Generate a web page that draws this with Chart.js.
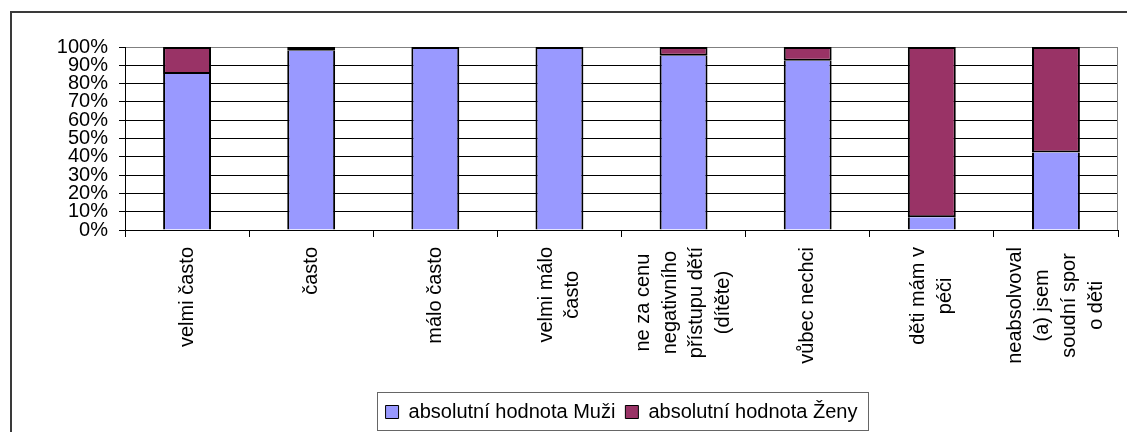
<!DOCTYPE html>
<html>
<head>
<meta charset="utf-8">
<script src="https://cdn.jsdelivr.net/npm/chart.js@4/dist/chart.umd.min.js"></script>
<style>
  body { margin: 0; background: #fff; }
</style>
</head>
<body>
<canvas id="chart" width="1127" height="432"></canvas>
<script>
const categories = [
  ['velmi často'],
  ['často'],
  ['málo často'],
  ['velmi málo', 'často'],
  ['ne za cenu', 'negativního', 'přístupu dětí', '(dítěte)'],
  ['vůbec nechci'],
  ['děti mám v', 'péči'],
  ['neabsolvoval', '(a) jsem', 'soudní spor', 'o děti']
];
const muzi = [85.2, 98, 100, 100, 95.2, 92.5, 6.9, 42.3];
const zeny = [14.8, 2, 0, 0, 4.8, 7.5, 93.1, 57.7];
const yStep = 10;

const FONT = "'Liberation Sans', Arial, sans-serif";
Chart.defaults.font.family = FONT;
Chart.defaults.font.size = 20;
Chart.defaults.color = '#000';

// frame, right plot border, legend box and centred multi-line category labels
const decorations = {
  id: 'decorations',
  afterLayout(chart) {
    // centre the legend under the plot area, not the whole canvas
    const lg = chart.legend;
    lg.left = chart.chartArea.left;
    lg.right = chart.chartArea.right;
    lg.width = lg.right - lg.left;
  },
  beforeDraw(chart) {
    const ctx = chart.ctx;
    ctx.save();
    ctx.strokeStyle = '#3a3a3a';
    ctx.lineWidth = 2;
    ctx.strokeRect(11, 12, 2000, 2000);
    ctx.restore();
  },
  afterDatasetsDraw(chart) {
    const { ctx, chartArea } = chart;
    ctx.save();
    ctx.strokeStyle = '#808080';
    ctx.lineWidth = 1;
    ctx.beginPath();
    ctx.moveTo(chartArea.right - 0.5, chartArea.top);
    ctx.lineTo(chartArea.right - 0.5, chartArea.bottom);
    ctx.stroke();
    ctx.restore();
  },
  afterDraw(chart) {
    const ctx = chart.ctx;
    const x = chart.scales.x;
    ctx.save();
    ctx.font = '20px ' + FONT;
    ctx.fillStyle = '#000';
    ctx.textAlign = 'center';
    ctx.textBaseline = 'middle';
    const lh = 26.7;
    const top = x.top + 17;
    categories.forEach((lines, i) => {
      const cx = x.getPixelForValue(i);
      const w = Math.max(...lines.map(l => ctx.measureText(l).width));
      const cy = top + w / 2;
      lines.forEach((line, j) => {
        ctx.save();
        ctx.translate(cx + (j - (lines.length - 1) / 2) * lh, cy);
        ctx.rotate(-Math.PI / 2);
        ctx.fillText(line, 0, 0);
        ctx.restore();
      });
    });
    // legend frame
    const boxes = chart.legend.legendHitBoxes;
    if (boxes && boxes.length) {
      const l = Math.min(...boxes.map(b => b.left)) - 9;
      const r = Math.max(...boxes.map(b => b.left + b.width)) + 10;
      const t = Math.min(...boxes.map(b => b.top)) - 10;
      const b = Math.max(...boxes.map(b => b.top + b.height)) + 8;
      ctx.strokeStyle = '#666';
      ctx.lineWidth = 1;
      ctx.strokeRect(Math.round(l) + 0.5, Math.round(t) + 0.5, Math.round(r - l), Math.round(b - t));
    }
    ctx.restore();
  }
};

new Chart(document.getElementById('chart'), {
  type: 'bar',
  data: {
    labels: categories,
    datasets: [
      {
        label: 'absolutní hodnota Muži',
        data: muzi,
        backgroundColor: '#9999FF',
        borderColor: '#000',
        // the top edge comes from the Ženy segment when there is one
        borderWidth: ctx => ({ left: 2, right: 2, bottom: 0, top: zeny[ctx.dataIndex] > 0 ? 0 : 2 }),
        borderSkipped: false,
        inflateAmount: 0,
        barPercentage: 0.386,
        categoryPercentage: 1
      },
      {
        label: 'absolutní hodnota Ženy',
        data: zeny,
        backgroundColor: '#993366',
        borderColor: '#000',
        borderWidth: 2,
        borderSkipped: false,
        inflateAmount: 0,
        barPercentage: 0.386,
        categoryPercentage: 1
      }
    ]
  },
  options: {
    responsive: false,
    animation: false,
    layout: { padding: { left: 0, right: 9, top: 47, bottom: 0 } },
    plugins: {
      tooltip: { enabled: false },
      legend: {
        position: 'bottom',
        labels: {
          boxWidth: 13,
          boxHeight: 13,
          padding: 10,
          font: { size: 20 },
          generateLabels(chart) {
            return Chart.defaults.plugins.legend.labels.generateLabels(chart)
              .map(item => Object.assign(item, { lineWidth: 1 }));
          }
        }
      }
    },
    scales: {
      x: {
        stacked: true,
        grid: {
          drawOnChartArea: false,
          drawTicks: true,
          tickLength: 7,
          color: '#000',
          offset: true
        },
        border: { color: '#000', width: 1 },
        ticks: { display: false },
        afterFit(scale) { scale.height = 162; }
      },
      y: {
        stacked: true,
        min: 0,
        max: 100,
        grid: {
          color: ctx => (ctx.tick && ctx.tick.value === 100 ? '#808080' : '#000'),
          tickColor: '#000',
          tickLength: 6
        },
        border: { color: '#000', width: 1 },
        ticks: {
          stepSize: yStep,
          autoSkip: false,
          padding: 11,
          font: { size: 20 },
          callback: v => v + '%'
        },
        afterFit(scale) { scale.width = 125; }
      }
    }
  },
  plugins: [decorations]
});
</script>
</body>
</html>
